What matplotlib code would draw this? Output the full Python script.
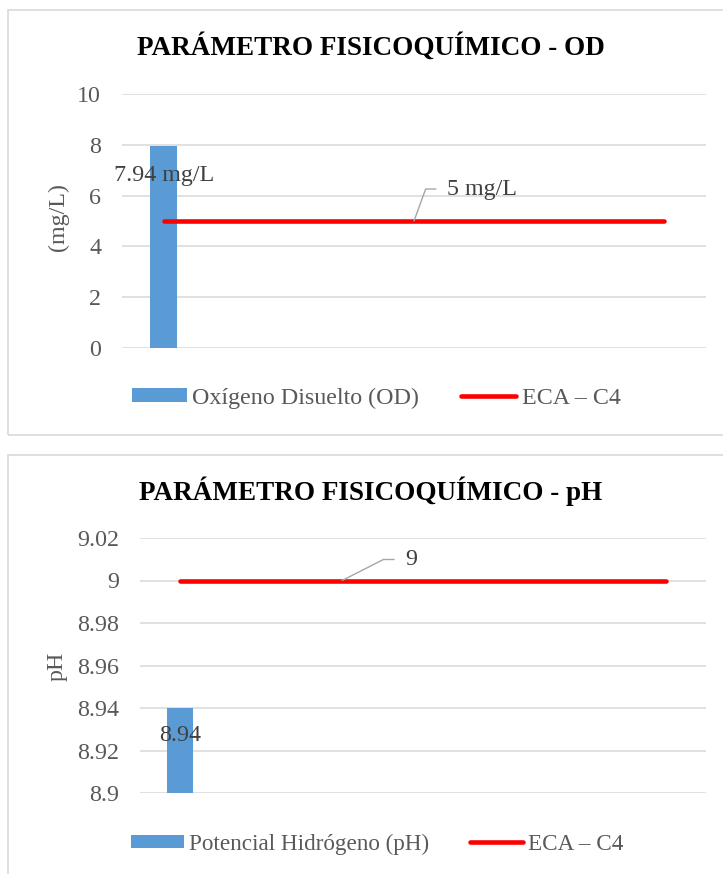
import numpy as np
import matplotlib
matplotlib.use("Agg")
from matplotlib import pyplot as plt
from matplotlib.patches import Rectangle, Patch
from matplotlib.lines import Line2D

# data
categories = ["1", "2", "3", "4", "5", "6", "7"]
od_values = [7.94, np.nan, np.nan, np.nan, np.nan, np.nan, np.nan]
eca_od = [5, 5, 5, 5, 5, 5, 5]
ph_values = [8.94, np.nan, np.nan, np.nan, np.nan, np.nan, np.nan]
eca_ph = [9, 9, 9, 9, 9, 9, 9]
od_ticks = [0, 2, 4, 6, 8, 10]
ph_ticks = [8.9, 8.92, 8.94, 8.96, 8.98, 9, 9.02]
ph_tick_labels = ["8.9", "8.92", "8.94", "8.96", "8.98", "9", "9.02"]

W, H = 723, 874
BLUE = "#5B9BD5"
RED = "#FF0000"
GRID = "#D9D9D9"
TXT = "#595959"
LBL = "#404040"
FS = 17.3

plt.rcParams["font.family"] = ["Liberation Serif", "DejaVu Serif"]

fig = plt.figure(figsize=(W / 100, H / 100), dpi=100)


def px_axes(left, top, right, bottom):
    return fig.add_axes([left / W, 1 - bottom / H, (right - left) / W, (bottom - top) / H])


def fx(x):
    return x / W


def fy(y):
    return 1 - y / H


# panel borders
for top, bottom in [(10, 435), (455, 880)]:
    fig.patches.append(Rectangle((fx(8), fy(bottom)), fx(730) - fx(8), fy(top) - fy(bottom),
                                 transform=fig.transFigure, fill=False,
                                 edgecolor=GRID, linewidth=1.2, zorder=0))


def style_axes(ax, ticks, labels, ylim):
    x = np.arange(len(categories))
    ax.set_xlim(-0.5, len(categories) - 0.5)
    ax.set_ylim(*ylim)
    ax.set_yticks(ticks)
    ax.set_yticklabels(labels)
    ax.set_xticks([])
    ax.tick_params(axis="y", length=0, pad=15, labelsize=FS, labelcolor=TXT)
    for s in ax.spines.values():
        s.set_visible(False)
    ax.grid(axis="y", color=GRID, linewidth=1.1, zorder=0)
    ax.set_axisbelow(True)
    ax.patch.set_alpha(0)
    return x


def leader_label(ax, xi, yv, text, dx, dy, angle):
    ax.annotate(text, xy=(xi, yv), xytext=(dx, dy), textcoords="offset pixels",
                ha="left", va="center", fontsize=FS, color=LBL,
                arrowprops=dict(arrowstyle="-", color="#A6A6A6", lw=1.0,
                                relpos=(0, 0.5), shrinkA=6, shrinkB=0,
                                connectionstyle="angle,angleA=0,angleB=%d,rad=0" % angle))


def add_legend(label, center, size):
    fig.legend(handles=[Patch(facecolor=BLUE),
                        Line2D([], [], color=RED, lw=3.3, solid_capstyle="round")],
               labels=[label, "ECA – C4"], loc="center",
               bbox_to_anchor=(fx(center[0]), fy(center[1])), ncol=2, frameon=False,
               fontsize=size, handlelength=2.3, handleheight=0.52, handletextpad=0.22,
               columnspacing=1.75, borderpad=0, labelcolor=TXT)


# ---- top chart: OD ----
ax1 = px_axes(122, 94, 706, 348)
x = style_axes(ax1, od_ticks, [str(t) for t in od_ticks], (0, 10))
ax1.bar(x, od_values, width=0.32, color=BLUE, zorder=2)
ax1.plot(x, eca_od, color=RED, linewidth=3.3, solid_capstyle="round", zorder=3)
ax1.annotate("7.94 mg/L", xy=(x[0], od_values[0]), xytext=(0, -29), textcoords="offset pixels",
             ha="center", va="center", fontsize=FS, color=LBL)
leader_label(ax1, x[3], eca_od[3], "5 mg/L", 33, 32, 70)
fig.text(fx(371), fy(55), "PARÁMETRO FISICOQUÍMICO - OD",
         ha="center", va="baseline", fontsize=19.5, fontweight="bold", color="black")
fig.text(fx(58), fy(217), "(mg/L)", rotation=90, ha="center", va="center",
         fontsize=FS, color=TXT)
add_legend("Oxígeno Disuelto (OD)", (376, 398), FS)

# ---- bottom chart: pH ----
ax2 = px_axes(140, 538, 706, 793)
x = style_axes(ax2, ph_ticks, ph_tick_labels, (8.9, 9.02))
ax2.bar(x, ph_values, width=0.32, color=BLUE, zorder=2)
ax2.plot(x, eca_ph, color=RED, linewidth=3.3, solid_capstyle="round", zorder=3)
ax2.annotate("8.94", xy=(x[0], ph_values[0]), xytext=(0, -27), textcoords="offset pixels",
             ha="center", va="center", fontsize=FS, color=LBL)
leader_label(ax2, x[2], eca_ph[2], "9", 63, 21, 27)
fig.text(fx(371), fy(500), "PARÁMETRO FISICOQUÍMICO - pH",
         ha="center", va="baseline", fontsize=19.5, fontweight="bold", color="black")
fig.text(fx(57), fy(666), "pH", rotation=90, ha="center", va="center",
         fontsize=FS, color=TXT)
add_legend("Potencial Hidrógeno (pH)", (377, 844), 16.7)

fig.savefig("out.png", dpi=100, facecolor="white")
